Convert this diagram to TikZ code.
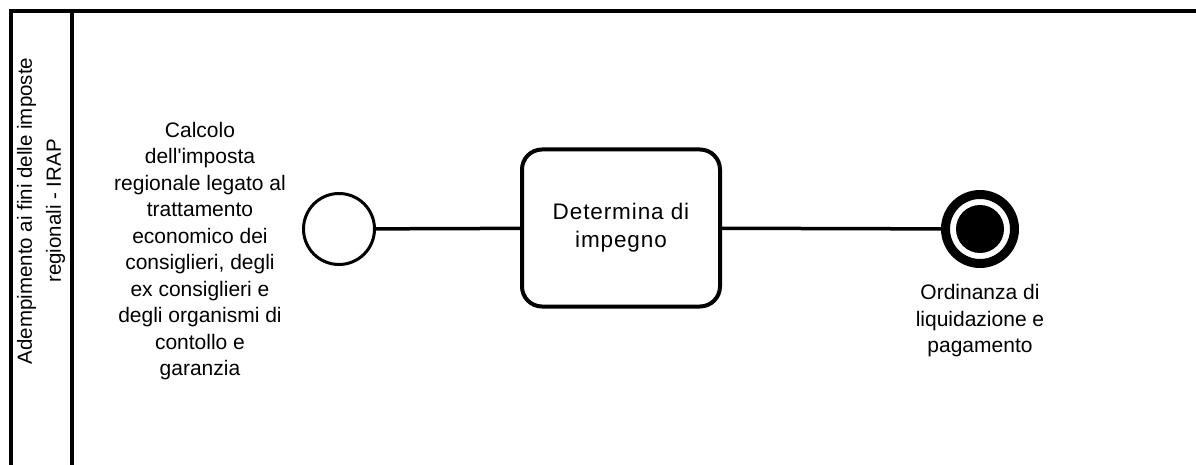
\documentclass[tikz,border=0pt]{standalone}
\usepackage{fontspec}
\setmainfont{Liberation Sans}
\usetikzlibrary{positioning}

\begin{document}
\begin{tikzpicture}[x=1pt,y=-1pt,
  lbl/.style={align=center,font=\fontsize{21}{26.5}\selectfont},
  startev/.style={circle,draw,line width=3pt,minimum size=71pt,inner sep=0pt,fill=white},
  endev/.style={circle,draw,line width=9pt,minimum size=69pt,inner sep=0pt},
  taskbox/.style={draw,line width=4pt,rounded corners=20pt,minimum width=198pt,minimum height=157pt,
    align=center,font=\fontsize{22.5}{28}\selectfont\addfontfeature{LetterSpace=4}},
  flow/.style={line width=3.5pt}]
  \useasboundingbox (0,0) rectangle (1196,465);

  % pool and lane
  \draw[line width=4pt] (11,465) -- (11,11) -- (1196,11);
  \draw[line width=4.5pt] (72,11) -- (72,465);
  \node[align=center,rotate=90,font=\fontsize{20.5}{29}\selectfont] (lane) at (41,211)
    {Adempimento ai fini delle imposte\\regionali - IRAP};

  % events and task
  \node[startev] (start) at (339,229) {};
  \node[taskbox] (task) at (621,228) {Determina di\\impegno};
  \node[endev] (end) at (980,229) {};
  \node[circle,fill,minimum size=48pt,inner sep=0pt] (enddot) at (end) {};

  \draw[flow] (start) -- (task);
  \draw[flow] (task) -- (end);

  % labels
  \node[lbl] (startlbl) at (200,251) {Calcolo\\dell\textquotesingle imposta\\regionale legato al\\trattamento\\economico dei\\consiglieri, degli\\ex consiglieri e\\degli organismi di\\contollo e\\garanzia};
  \node[lbl] (endlbl) at (980,321) {Ordinanza di\\liquidazione e\\pagamento};
\end{tikzpicture}
\end{document}
